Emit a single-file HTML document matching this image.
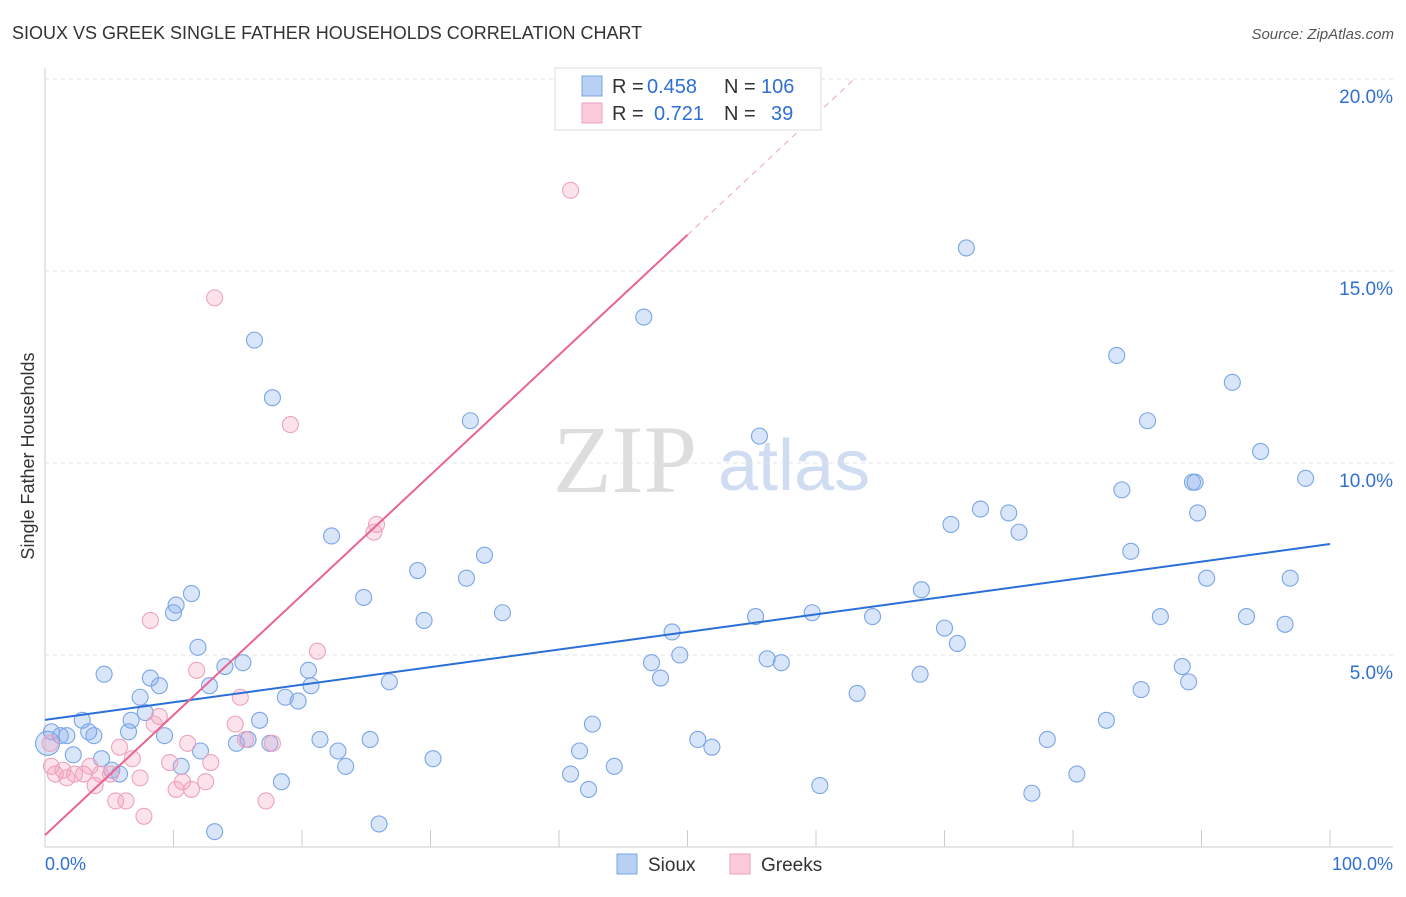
<!DOCTYPE html>
<html><head><meta charset="utf-8"><style>
body{margin:0;background:#fff;font-family:"Liberation Sans",sans-serif;}
</style></head><body>
<svg id="c" width="1406" height="892" xmlns="http://www.w3.org/2000/svg">
<text x="12" y="39" font-size="18" fill="#333">SIOUX VS GREEK SINGLE FATHER HOUSEHOLDS CORRELATION CHART</text>
<text x="1394" y="39" font-size="15" fill="#555" font-style="italic" text-anchor="end">Source: ZipAtlas.com</text>
<text x="34" y="456" font-size="18" fill="#333" transform="rotate(-90 34 456)" text-anchor="middle">Single Father Households</text>
<g><text x="553" y="492" font-family="Liberation Serif,serif" font-size="96" fill="#ddd">ZIP</text><text x="718" y="490" font-size="72" fill="#cfdcf2">atlas</text></g>
<g id="grid"></g><g id="marks"></g>
<g>
<rect x="555" y="68" width="266" height="62" fill="#fff" stroke="#ddd"/>
<rect x="582" y="76" width="20" height="20" fill="#b8d0f4" stroke="#7aa6e6"/>
<rect x="582" y="103" width="20" height="20" fill="#fbcadb" stroke="#f0a0bc"/>
<text y="93" font-size="20" fill="#333"><tspan x="612">R = </tspan><tspan x="647" fill="#2f6fd6">0.458</tspan><tspan x="724">N = </tspan><tspan x="761" fill="#2f6fd6">106</tspan></text>
<text y="120" font-size="20" fill="#333"><tspan x="612">R = </tspan><tspan x="654" fill="#2f6fd6">0.721</tspan><tspan x="724">N = </tspan><tspan x="771" fill="#2f6fd6">39</tspan></text>
</g>
<g>
<rect x="617" y="854" width="20" height="20" fill="#b8d0f4" stroke="#7aa6e6"/>
<text x="648" y="871" font-size="19" fill="#333">Sioux</text>
<rect x="730" y="854" width="20" height="20" fill="#fbcadb" stroke="#f0a0bc"/>
<text x="761" y="871" font-size="19" fill="#333">Greeks</text>
</g>
<text x="45" y="870" font-size="18" fill="#2f6fd6">0.0%</text>
<text x="1393" y="870" font-size="18" fill="#2f6fd6" text-anchor="end">100.0%</text>
</svg>
<script>
const yTicks=[5,10,15,20];
const yTickLabels=["5.0%","10.0%","15.0%","20.0%"];
const siouxX=[71.7,46.6,16.3,17.7,83.4,92.4,33.1,85.8,55.6,94.6,89.3,89.5,98.1,83.8,72.8,75.0,89.7,70.5,75.8,22.3,34.2,84.5,29.0,32.8,90.4,96.9,11.4,68.2,24.8,10.2,10.0,35.6,59.7,64.4,55.3,86.8,93.5,96.5,29.5,70.0,48.8,71.0,11.9,47.2,49.4,56.2,57.3,15.4,14.0,88.5,47.9,68.1,89.0,4.6,20.5,8.2,8.9,20.7,26.8,12.8,63.2,85.3,7.4,18.7,19.7,7.8,2.9,6.7,16.7,42.6,82.6,3.4,6.5,0.5,1.2,1.7,3.8,9.3,15.8,14.9,21.4,25.3,50.8,78.0,17.5,51.9,41.6,22.8,12.1,2.2,4.4,30.2,10.6,23.4,44.3,5.2,5.8,40.9,80.3,18.4,60.3,42.3,76.8,26.0,13.2,0.2];
const siouxY=[15.6,13.8,13.2,11.7,12.8,12.1,11.1,11.1,10.7,10.3,9.5,9.5,9.6,9.3,8.8,8.7,8.7,8.4,8.2,8.1,7.6,7.7,7.2,7.0,7.0,7.0,6.6,6.7,6.5,6.3,6.1,6.1,6.1,6.0,6.0,6.0,6.0,5.8,5.9,5.7,5.6,5.3,5.2,4.8,5.0,4.9,4.8,4.8,4.7,4.7,4.4,4.5,4.3,4.5,4.6,4.4,4.2,4.2,4.3,4.2,4.0,4.1,3.9,3.9,3.8,3.5,3.3,3.3,3.3,3.2,3.3,3.0,3.0,3.0,2.9,2.9,2.9,2.9,2.8,2.7,2.8,2.8,2.8,2.8,2.7,2.6,2.5,2.5,2.5,2.4,2.3,2.3,2.1,2.1,2.1,2.0,1.9,1.9,1.9,1.7,1.6,1.5,1.4,0.6,0.4,2.7];
const greekX=[40.9,13.2,19.1,25.8,25.6,8.2,21.2,11.8,15.2,8.9,8.5,14.8,11.1,17.7,15.6,5.8,0.4,6.8,9.7,12.9,0.5,3.5,0.8,1.7,2.3,3.0,4.3,5.1,3.9,7.4,10.7,12.5,10.2,11.4,5.5,6.3,17.2,7.7,1.4];
const greekY=[17.1,14.3,11.0,8.4,8.2,5.9,5.1,4.6,3.9,3.4,3.2,3.2,2.7,2.7,2.8,2.6,2.7,2.3,2.2,2.2,2.1,2.1,1.9,1.8,1.9,1.9,1.9,1.9,1.6,1.8,1.7,1.7,1.5,1.5,1.2,1.2,1.2,0.8,2.0];
const siouxLine=[3.31,7.89];
const greekLine=[0.31,15.94];
const X=v=>45+v*12.85, Y=v=>847-v*38.4;
const NS="http://www.w3.org/2000/svg";
function mk(t,a,p){const e=document.createElementNS(NS,t);for(const k in a)e.setAttribute(k,a[k]);p.appendChild(e);return e;}
const grid=document.getElementById('grid'),marks=document.getElementById('marks');
let ax=mk('line',{x1:45,y1:68,x2:45,y2:847,stroke:'#ccc'},grid);


let bx=mk('line',{x1:45,y1:847,x2:1393,y2:847,stroke:'#ccc'},grid);


for(let i=1;i<=10;i++){const t=mk('line',{x1:X(i*10),y1:830,x2:X(i*10),y2:847,stroke:'#ccc'},grid);

}
yTicks.forEach((v,i)=>{const g=mk('line',{x1:45,y1:Y(v),x2:1393,y2:Y(v),stroke:'#e2e2e2','stroke-dasharray':'4 4'},grid);


const t=mk('text',{x:1393,y:Y(v)+24,'font-size':19,fill:'#2f6fd6','text-anchor':'end'},grid);t.textContent=yTickLabels[i];

});
siouxX.forEach((x,i)=>{const c=mk('circle',{cx:X(x),cy:Y(siouxY[i]),r:i==siouxX.length-1?12:8,fill:'rgba(130,170,235,0.3)',stroke:'#7aa6e6','stroke-width':1.1},marks);

});
greekX.forEach((x,i)=>{const c=mk('circle',{cx:X(x),cy:Y(greekY[i]),r:8,fill:'rgba(245,160,190,0.3)',stroke:'#eda3bd','stroke-width':1.1},marks);

});
let l1=mk('line',{x1:X(0),y1:Y(siouxLine[0]),x2:X(100),y2:Y(siouxLine[1]),stroke:'#2a6fd8','stroke-width':2},marks);


let l2=mk('line',{x1:X(0),y1:Y(greekLine[0]),x2:X(50),y2:Y(greekLine[1]),stroke:'#e8658f','stroke-width':2},marks);


const s=(greekLine[1]-greekLine[0])/50, xe=(20-greekLine[0])/s;
let l3=mk('line',{x1:X(50),y1:Y(greekLine[1]),x2:X(xe),y2:Y(20),stroke:'#eda3bd','stroke-width':1,'stroke-dasharray':'6 5'},marks);


</script>
</body></html>
